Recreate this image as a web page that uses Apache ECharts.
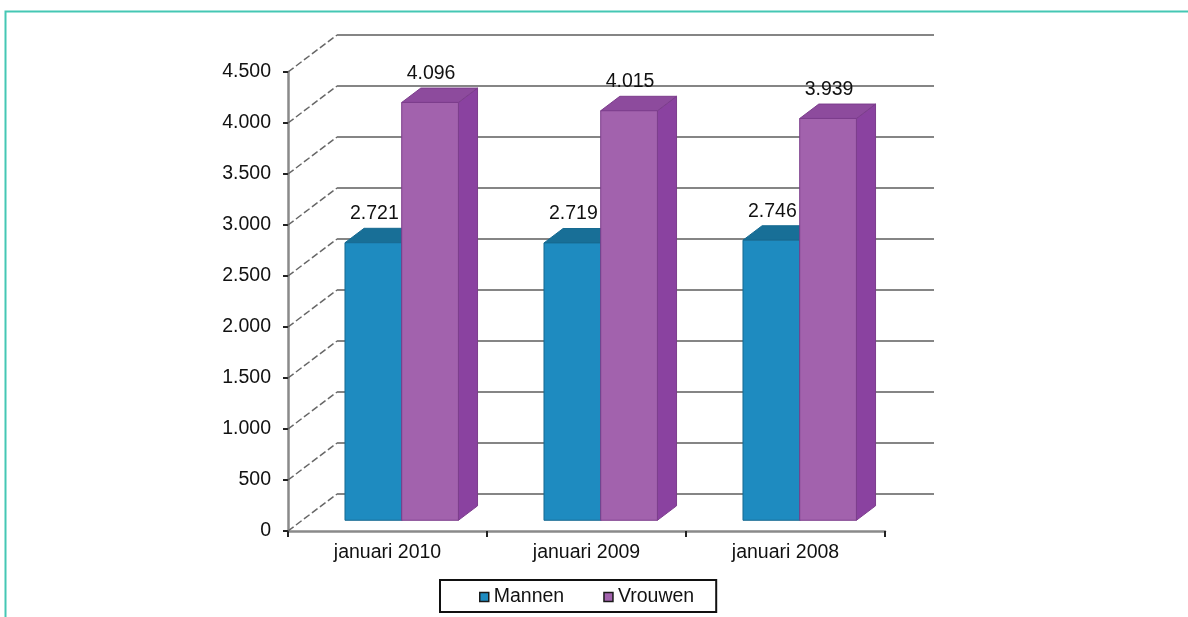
<!DOCTYPE html>
<html>
<head>
<meta charset="utf-8">
<script src="https://cdn.jsdelivr.net/npm/echarts@6/dist/echarts.min.js"></script>
<style>
  html, body { margin: 0; padding: 0; background: #fff; }
  #main { width: 1188px; height: 617px; }
</style>
</head>
<body>
<div id="main"></div>
<script>
var categories = ['januari 2010', 'januari 2009', 'januari 2008'];
var mannen = [2721, 2719, 2746];
var vrouwen = [4096, 4015, 3939];
var yTicks = [0, 500, 1000, 1500, 2000, 2500, 3000, 3500, 4000, 4500];

// depth of the 3D box (pixels) and where the bars sit inside it
var DX = 49, DY = -37;
var F0 = 0.29;   // front face of bars
var FD = 0.39;   // bar depth
var BAR_FRAC = 0.285;
var FONT = '"Liberation Sans", Arial, sans-serif';

function fmt(v) {
    if (v < 1000) return String(v);
    return Math.floor(v / 1000) + '.' + String(v % 1000).padStart(3, '0');
}

var chartDom = document.getElementById('main');
var myChart = echarts.init(chartDom);

// back wall lines + diagonals from the front axis
function wallRender(params, api) {
    var cs = params.coordSys;
    var y = api.coord([0, api.value(1)])[1];
    var left = cs.x, right = cs.x + cs.width;
    return {
        type: 'group',
        children: [
            {
                type: 'line',
                shape: { x1: left, y1: y, x2: left + DX, y2: y + DY },
                style: { stroke: '#666', lineWidth: 1.5, lineDash: [7, 3] }
            },
            {
                type: 'line',
                shape: { x1: left + DX, y1: y + DY, x2: right + DX, y2: y + DY },
                style: { stroke: '#858585', lineWidth: 2 }
            }
        ]
    };
}

function barRender(side, cFront, cTop, cSide, cEdge) {
    return function (params, api) {
        var idx = api.value(0), v = api.value(1);
        var top = api.coord([idx, v]);
        var base = api.coord([idx, 0]);
        var band = api.size([1, 0])[0];
        var w = band * BAR_FRAC;
        var ox = DX * F0, oy = DY * F0;
        var x0 = side < 0 ? top[0] - w + ox : top[0] + ox;
        var x1 = x0 + w;
        var yt = top[1] + oy, yb = base[1] + oy;
        var dx = DX * FD, dy = DY * FD;
        return {
            type: 'group',
            children: [
                {
                    type: 'polygon',
                    shape: { points: [[x1, yt], [x1 + dx, yt + dy], [x1 + dx, yb + dy], [x1, yb]] },
                    style: { fill: cSide, stroke: cEdge, lineWidth: 1 }
                },
                {
                    type: 'polygon',
                    shape: { points: [[x0, yt], [x0 + dx, yt + dy], [x1 + dx, yt + dy], [x1, yt]] },
                    style: { fill: cTop, stroke: cEdge, lineWidth: 1 }
                },
                {
                    type: 'rect',
                    shape: { x: x0, y: yt, width: w, height: yb - yt },
                    style: { fill: cFront, stroke: cEdge, lineWidth: 1 }
                },
                {
                    type: 'text',
                    style: {
                        text: fmt(v), x: (x0 + x1) / 2 + 1, y: yt - 29,
                        align: 'center', verticalAlign: 'middle',
                        fontSize: 19.5, fontFamily: FONT, fill: '#111'
                    }
                }
            ]
        };
    };
}

let option = {
    animation: false,
    backgroundColor: '#fff',
    textStyle: { fontFamily: FONT },
    graphic: [
        {
            type: 'polyline',
            shape: { points: [[5.5, 617], [5.5, 11.5], [1188, 11.5]] },
            style: { stroke: '#45c7b4', lineWidth: 2, fill: null }
        }
    ],
    grid: { left: 288, top: 72, width: 597, height: 459 },
    legend: {
        left: 440,
        top: 580,
        padding: [7, 22, 5, 39],
        borderColor: '#111',
        borderWidth: 2,
        itemWidth: 9,
        itemHeight: 9,
        itemGap: 39,
        textStyle: { fontSize: 19.5, color: '#111', fontFamily: FONT },
        data: [
            { name: 'Mannen', icon: 'rect', itemStyle: { color: '#1e8bc0', borderColor: '#1a1a1a', borderWidth: 1.5 } },
            { name: 'Vrouwen', icon: 'rect', itemStyle: { color: '#a262ad', borderColor: '#1a1a1a', borderWidth: 1.5 } }
        ]
    },
    xAxis: {
        type: 'category',
        data: categories,
        axisLine: { lineStyle: { color: '#8a8a8a', width: 2.5 } },
        axisTick: { show: true, length: 6, lineStyle: { color: '#222', width: 2 } },
        axisLabel: { fontSize: 19.5, color: '#111', margin: 12, fontFamily: FONT },
        splitLine: { show: false }
    },
    yAxis: {
        type: 'value',
        min: 0,
        max: 4500,
        interval: 500,
        axisLine: { show: true, lineStyle: { color: '#8a8a8a', width: 2.5 } },
        axisTick: { show: true, length: 5, lineStyle: { color: '#222', width: 2 } },
        axisLabel: { fontSize: 19.5, color: '#111', margin: 17, fontFamily: FONT, formatter: fmt },
        splitLine: { show: false }
    },
    series: [
        {
            type: 'custom',
            name: 'wall',
            clip: false,
            silent: true,
            renderItem: wallRender,
            encode: { x: 0, y: 1 },
            data: yTicks.map(function (v) { return [0, v]; }),
            z: 1
        },
        {
            type: 'custom',
            name: 'Mannen',
            clip: false,
            itemStyle: { color: '#1e8bc0' },
            renderItem: barRender(-1, '#1e8bc0', '#186f97', '#186f97', '#176a91'),
            encode: { x: 0, y: 1 },
            data: mannen.map(function (v, i) { return [i, v]; }),
            z: 2
        },
        {
            type: 'custom',
            name: 'Vrouwen',
            clip: false,
            itemStyle: { color: '#a262ad' },
            renderItem: barRender(1, '#a262ad', '#8d4b9d', '#8a42a0', '#7c3d8c'),
            encode: { x: 0, y: 1 },
            data: vrouwen.map(function (v, i) { return [i, v]; }),
            z: 3
        }
    ]
};

option && myChart.setOption(option);
</script>
</body>
</html>
